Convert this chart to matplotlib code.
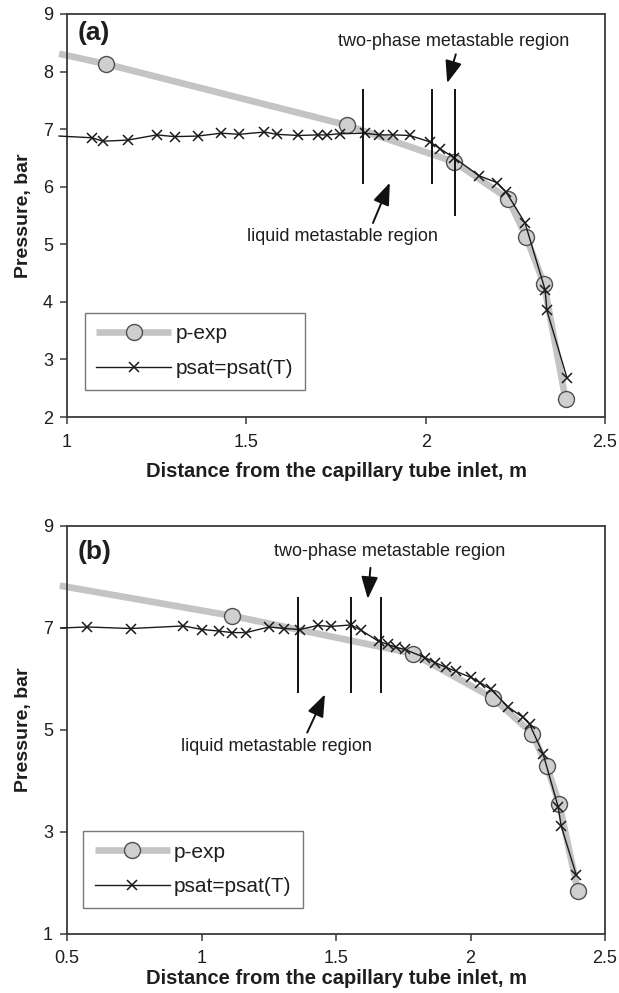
import matplotlib
matplotlib.use("Agg")
import matplotlib.pyplot as plt

plt.rcParams['font.family'] = ['Liberation Sans', 'DejaVu Sans']

# ---------------- Panel (a) data ----------------
a_pexp_x = [0.978, 1.11, 1.78, 2.08, 2.23, 2.28, 2.33, 2.39]
a_pexp_y = [8.31, 8.13, 7.07, 6.43, 5.79, 5.13, 4.31, 2.31]
a_psat_x = [0.978, 1.07, 1.10, 1.17, 1.25, 1.30, 1.365, 1.43, 1.48, 1.55, 1.585,
            1.645, 1.70, 1.725, 1.76, 1.83, 1.87, 1.91, 1.955, 2.012, 2.04, 2.08,
            2.149, 2.199, 2.224, 2.277, 2.333, 2.338, 2.394]
a_psat_y = [6.88, 6.85, 6.79, 6.81, 6.90, 6.87, 6.88, 6.93, 6.91, 6.95, 6.91,
            6.89, 6.90, 6.90, 6.92, 6.93, 6.90, 6.90, 6.89, 6.78, 6.66, 6.50,
            6.19, 6.07, 5.91, 5.37, 4.21, 3.85, 2.68]
a_vlines_x = [1.825, 2.018, 2.082]
a_vlines_top = [7.7, 7.7, 7.7]
a_vlines_bottom = [6.05, 6.05, 5.5]

# ---------------- Panel (b) data ----------------
b_pexp_x = [0.473, 1.112, 1.785, 2.083, 2.23, 2.283, 2.33, 2.399]
b_pexp_y = [7.83, 7.24, 6.50, 5.63, 4.93, 4.30, 3.55, 1.85]
b_psat_x = [0.478, 0.575, 0.737, 0.933, 1.003, 1.066, 1.112, 1.165, 1.251, 1.308,
            1.366, 1.432, 1.48, 1.556, 1.592, 1.658, 1.693, 1.723, 1.756, 1.83,
            1.868, 1.909, 1.946, 2.002, 2.035, 2.076, 2.14, 2.195, 2.22, 2.27,
            2.326, 2.337, 2.393]
b_psat_y = [7.00, 7.02, 6.99, 7.04, 6.97, 6.94, 6.91, 6.91, 7.02, 6.99,
            6.97, 7.05, 7.03, 7.06, 6.96, 6.74, 6.68, 6.62, 6.58, 6.42,
            6.32, 6.23, 6.15, 6.03, 5.93, 5.80, 5.45, 5.25, 5.11, 4.53,
            3.49, 3.12, 2.16]
b_vlines_x = [1.359, 1.556, 1.667]
b_vlines_top = [7.6, 7.6, 7.6]
b_vlines_bottom = [5.72, 5.72, 5.72]

a_xticks = [1, 1.5, 2, 2.5]
a_xticklabels = ["1", "1.5", "2", "2.5"]
a_yticks = [2, 3, 4, 5, 6, 7, 8, 9]
b_xticks = [0.5, 1, 1.5, 2, 2.5]
b_xticklabels = ["0.5", "1", "1.5", "2", "2.5"]
b_yticks = [1, 3, 5, 7, 9]

xlabel = "Distance from the capillary tube inlet, m"
ylabel = "Pressure, bar"
label_pexp = "p-exp"
label_psat = "psat=psat(T)"

TXT = '#1e1e1e'
SPINE = '#3a3a3a'
GRAY = '#c4c4c4'

W, H = 619, 993
fig = plt.figure(figsize=(W / 100, H / 100), dpi=100)


def axes_px(left, top, right, bottom):
    return fig.add_axes([left / W, 1 - bottom / H, (right - left) / W, (bottom - top) / H])


ax_a = axes_px(67, 14, 605, 417)
ax_b = axes_px(67, 526, 605, 934)


def draw(ax, px, py, sx, sy, vx, vt, vb, xpad, xlabpad):
    ax.plot(px, py, color=GRAY, lw=4.8, solid_capstyle='butt',
            marker='o', markersize=11.5, markerfacecolor='#cfcfcf',
            markeredgecolor='#505050', markeredgewidth=1.0,
            markevery=list(range(1, len(px))), clip_on=False, zorder=2,
            label=label_pexp)
    ax.plot(sx, sy, color='#1a1a1a', lw=1.0, marker='x', markersize=7.5,
            markeredgewidth=1.1, markevery=list(range(1, len(sx))),
            clip_on=False, zorder=3, label=label_psat)
    ax.vlines(vx, vb, vt, colors='#111111', lw=1.4, zorder=4)
    for s in ax.spines.values():
        s.set_color(SPINE)
        s.set_linewidth(1.3)
    ax.tick_params(direction='out', length=5, width=1.1, color=SPINE,
                   labelsize=13, labelcolor=TXT, pad=5)
    ax.tick_params(axis='x', pad=xpad)
    ax.set_xlabel(xlabel, fontsize=14.5, fontweight='bold', color=TXT, labelpad=xlabpad)
    ax.set_ylabel(ylabel, fontsize=14, fontweight='bold', color=TXT, labelpad=8)


draw(ax_a, a_pexp_x, a_pexp_y, a_psat_x, a_psat_y, a_vlines_x, a_vlines_top,
     a_vlines_bottom, 7, 8.5)
draw(ax_b, b_pexp_x, b_pexp_y, b_psat_x, b_psat_y, b_vlines_x, b_vlines_top,
     b_vlines_bottom, 6.5, 1.5)

ax_a.set_xlim(1, 2.5)
ax_a.set_ylim(2, 9)
ax_a.set_xticks(a_xticks)
ax_a.set_xticklabels(a_xticklabels)
ax_a.set_yticks(a_yticks)

ax_b.set_xlim(0.5, 2.5)
ax_b.set_ylim(1, 9)
ax_b.set_xticks(b_xticks)
ax_b.set_xticklabels(b_xticklabels)
ax_b.set_yticks(b_yticks)

arrow = dict(arrowstyle='-|>,head_length=0.85,head_width=0.32', color='#111111',
             lw=1.4, mutation_scale=16, shrinkA=0, shrinkB=0)

# panel (a) annotations
ax_a.text(1.03, 8.67, "(a)", fontsize=19, fontweight='bold', color=TXT, va='center', ha='left')
ax_a.text(2.079, 8.53, "two-phase metastable region", fontsize=13, color=TXT, ha='center', va='center')
ax_a.annotate("", xy=(2.06, 7.80), xytext=(2.084, 8.30), arrowprops=arrow)
ax_a.text(1.767, 5.13, "liquid metastable region", fontsize=13, color=TXT, ha='center', va='center')
ax_a.annotate("", xy=(1.90, 6.07), xytext=(1.853, 5.37), arrowprops=arrow)

# panel (b) annotations
ax_b.text(0.541, 8.49, "(b)", fontsize=19, fontweight='bold', color=TXT, va='center', ha='left')
ax_b.text(1.70, 8.5, "two-phase metastable region", fontsize=13, color=TXT, ha='center', va='center')
ax_b.annotate("", xy=(1.618, 7.57), xytext=(1.628, 8.18), arrowprops=arrow)
ax_b.text(1.28, 4.68, "liquid metastable region", fontsize=13, color=TXT, ha='center', va='center')
ax_b.annotate("", xy=(1.459, 5.70), xytext=(1.393, 4.95), arrowprops=arrow)

for ax, anchor in ((ax_a, (0.0335, 0.258)), (ax_b, (0.030, 0.252))):
    leg = ax.legend(loc='upper left', bbox_to_anchor=anchor, fontsize=15,
                    frameon=True, fancybox=False, handlelength=3.6,
                    handletextpad=0.2, labelspacing=0.75, borderpad=0.55,
                    borderaxespad=0, labelcolor=TXT)
    leg.get_frame().set_edgecolor('#555555')
    leg.get_frame().set_linewidth(1.0)

fig.savefig("out.png", dpi=100)
